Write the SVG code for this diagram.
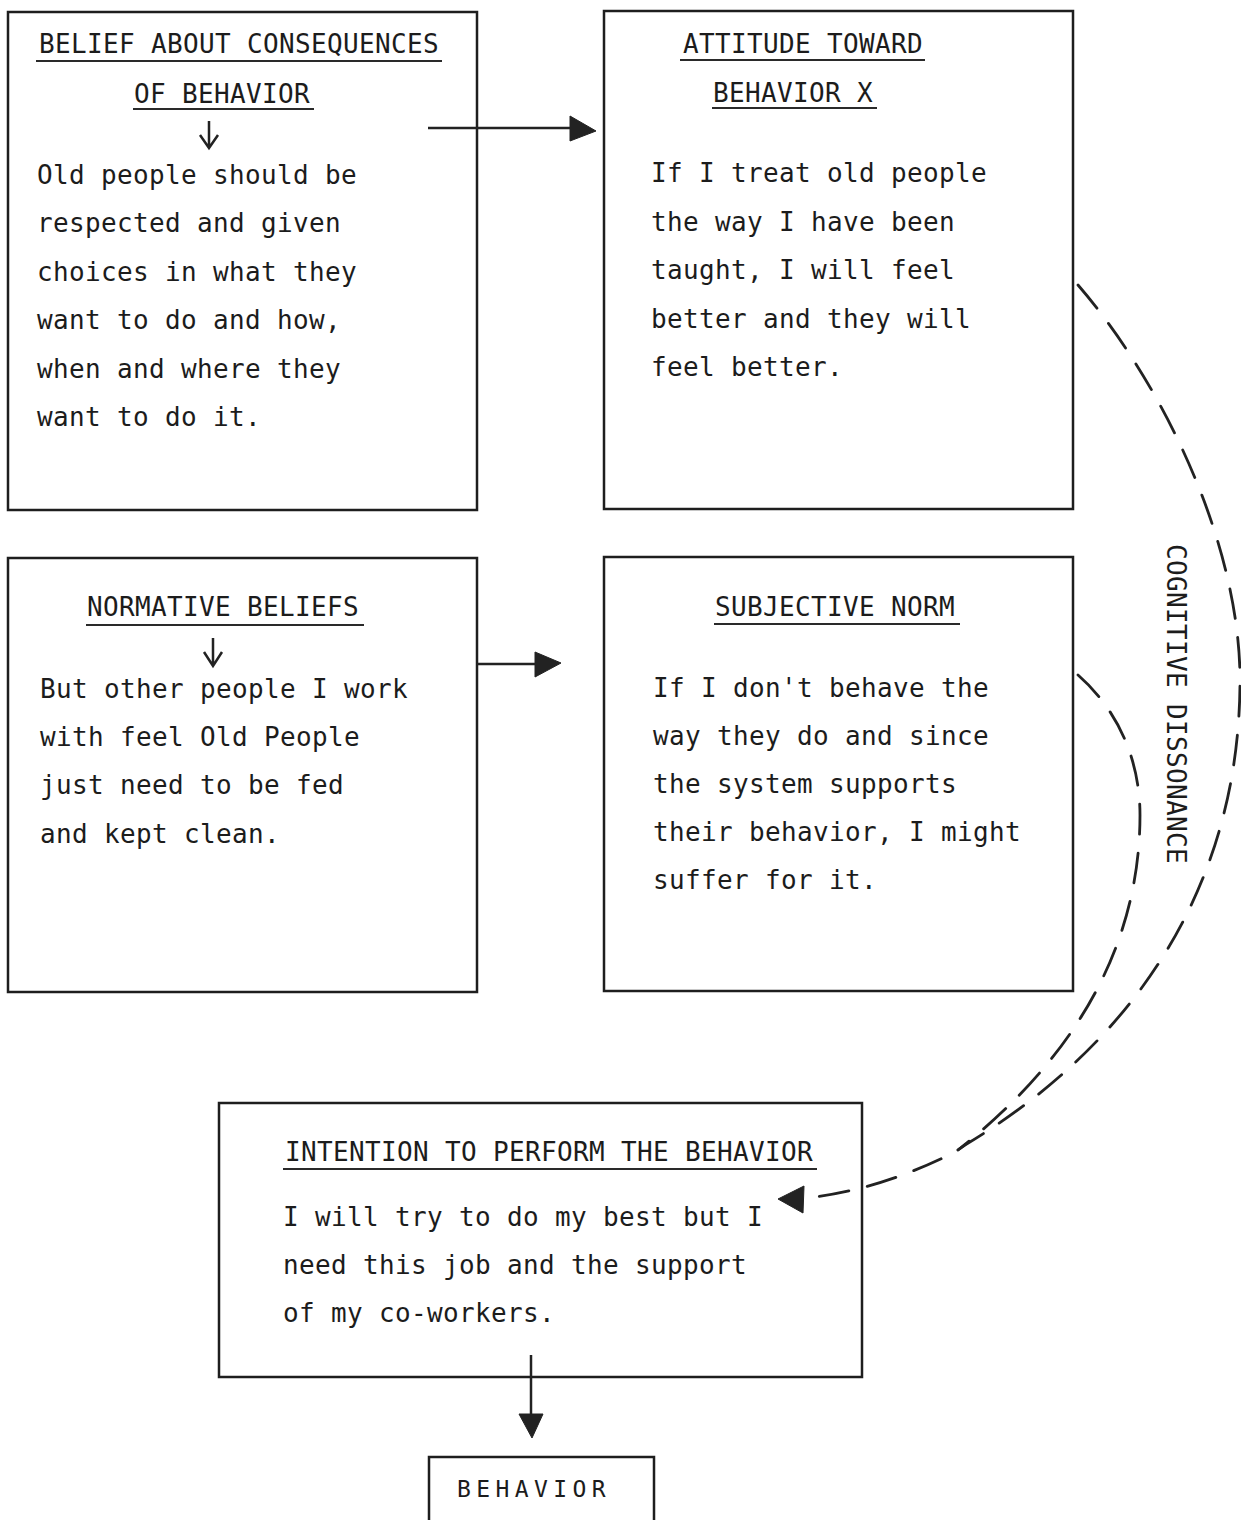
<svg xmlns="http://www.w3.org/2000/svg" width="1241" height="1520" viewBox="0 0 1241 1520">
<style>
.box{fill:none;stroke:#1e1e1e;stroke-width:2.5}
.ul{stroke:#2a2a2a;stroke-width:2.2}
.t{font-family:"DejaVu Sans Mono","Liberation Mono",monospace;font-size:26px;letter-spacing:0.35px;fill:#1c1c1c}
.ln{stroke:#222;stroke-width:2.5;fill:none}
.head{fill:#222;stroke:#222;stroke-width:1;stroke-linejoin:round}
.dash{fill:none;stroke:#222;stroke-width:2.8;stroke-dasharray:30 19;stroke-linecap:round}
</style>
<rect width="1241" height="1520" fill="#ffffff"/>

<g id="belief">
<rect class="box" x="8" y="12" width="469" height="498"/>
<text class="t" x="39" y="53">BELIEF ABOUT CONSEQUENCES</text>
<line class="ul" x1="36" y1="61" x2="442" y2="61"/>
<text class="t" x="134" y="103">OF BEHAVIOR</text>
<line class="ul" x1="133" y1="109" x2="314" y2="109"/>
<path class="ln" d="M209 121 V147 M200 135 L209 148 L218 135"/>
<text class="t" x="37" y="184">Old people should be</text>
<text class="t" x="37" y="232">respected and given</text>
<text class="t" x="37" y="281">choices in what they</text>
<text class="t" x="37" y="329">want to do and how,</text>
<text class="t" x="37" y="378">when and where they</text>
<text class="t" x="37" y="426">want to do it.</text>
</g>

<g id="attitude">
<rect class="box" x="604" y="11" width="469" height="498"/>
<text class="t" x="683" y="53">ATTITUDE TOWARD</text>
<line class="ul" x1="680" y1="60" x2="925" y2="60"/>
<text class="t" x="713" y="102">BEHAVIOR X</text>
<line class="ul" x1="712" y1="108" x2="877" y2="108"/>
<text class="t" x="651" y="182">If I treat old people</text>
<text class="t" x="651" y="231">the way I have been</text>
<text class="t" x="651" y="279">taught, I will feel</text>
<text class="t" x="651" y="328">better and they will</text>
<text class="t" x="651" y="376">feel better.</text>
</g>

<g id="normative">
<rect class="box" x="8" y="558" width="469" height="434"/>
<text class="t" x="87" y="616">NORMATIVE BELIEFS</text>
<line class="ul" x1="86" y1="625" x2="364" y2="625"/>
<path class="ln" d="M213 638 V665 M204 652 L213 666 L222 652"/>
<text class="t" x="40" y="698">But other people I work</text>
<text class="t" x="40" y="746">with feel Old People</text>
<text class="t" x="40" y="794">just need to be fed</text>
<text class="t" x="40" y="843">and kept clean.</text>
</g>

<g id="subjective">
<rect class="box" x="604" y="557" width="469" height="434"/>
<text class="t" x="715" y="616">SUBJECTIVE NORM</text>
<line class="ul" x1="714" y1="624" x2="960" y2="624"/>
<text class="t" x="653" y="697">If I don't behave the</text>
<text class="t" x="653" y="745">way they do and since</text>
<text class="t" x="653" y="793">the system supports</text>
<text class="t" x="653" y="841">their behavior, I might</text>
<text class="t" x="653" y="889">suffer for it.</text>
</g>

<g id="intention">
<rect class="box" x="219" y="1103" width="643" height="274"/>
<text class="t" x="285" y="1161">INTENTION TO PERFORM THE BEHAVIOR</text>
<line class="ul" x1="283" y1="1169" x2="817" y2="1169"/>
<text class="t" x="283" y="1226">I will try to do my best but I</text>
<text class="t" x="283" y="1274">need this job and the support</text>
<text class="t" x="283" y="1322">of my co-workers.</text>
</g>

<g id="behavior">
<rect class="box" x="429" y="1457" width="225" height="70"/>
<text class="t" x="457" y="1497" style="font-size:23px;letter-spacing:5.4px">BEHAVIOR</text>
</g>

<g id="label-cognitive">
<text class="t" transform="translate(1167,544) rotate(90)" x="0" y="0">COGNITIVE DISSONANCE</text>
</g>

<g id="connectors">
<line class="ln" x1="428" y1="128" x2="572" y2="128"/>
<polygon class="head" points="570,116 596,131 570,141"/>
<line class="ln" x1="477" y1="664" x2="537" y2="664"/>
<polygon class="head" points="535,652 561,663 535,677"/>
<line class="ln" x1="531" y1="1355" x2="531" y2="1416"/>
<polygon class="head" points="519,1414 543,1414 532,1438"/>
<path class="dash" d="M1078 285 C1160 380 1240 540 1240 680 C1240 880 1140 1040 965 1145 L955 1152 Q880 1190 806 1198"/>
<path class="dash" d="M1078 675 C1118 710 1140 760 1140 815 C1140 960 1060 1070 958 1150"/>
<polygon class="head" points="778,1199 804,1186 803,1213"/>
</g>
</svg>
